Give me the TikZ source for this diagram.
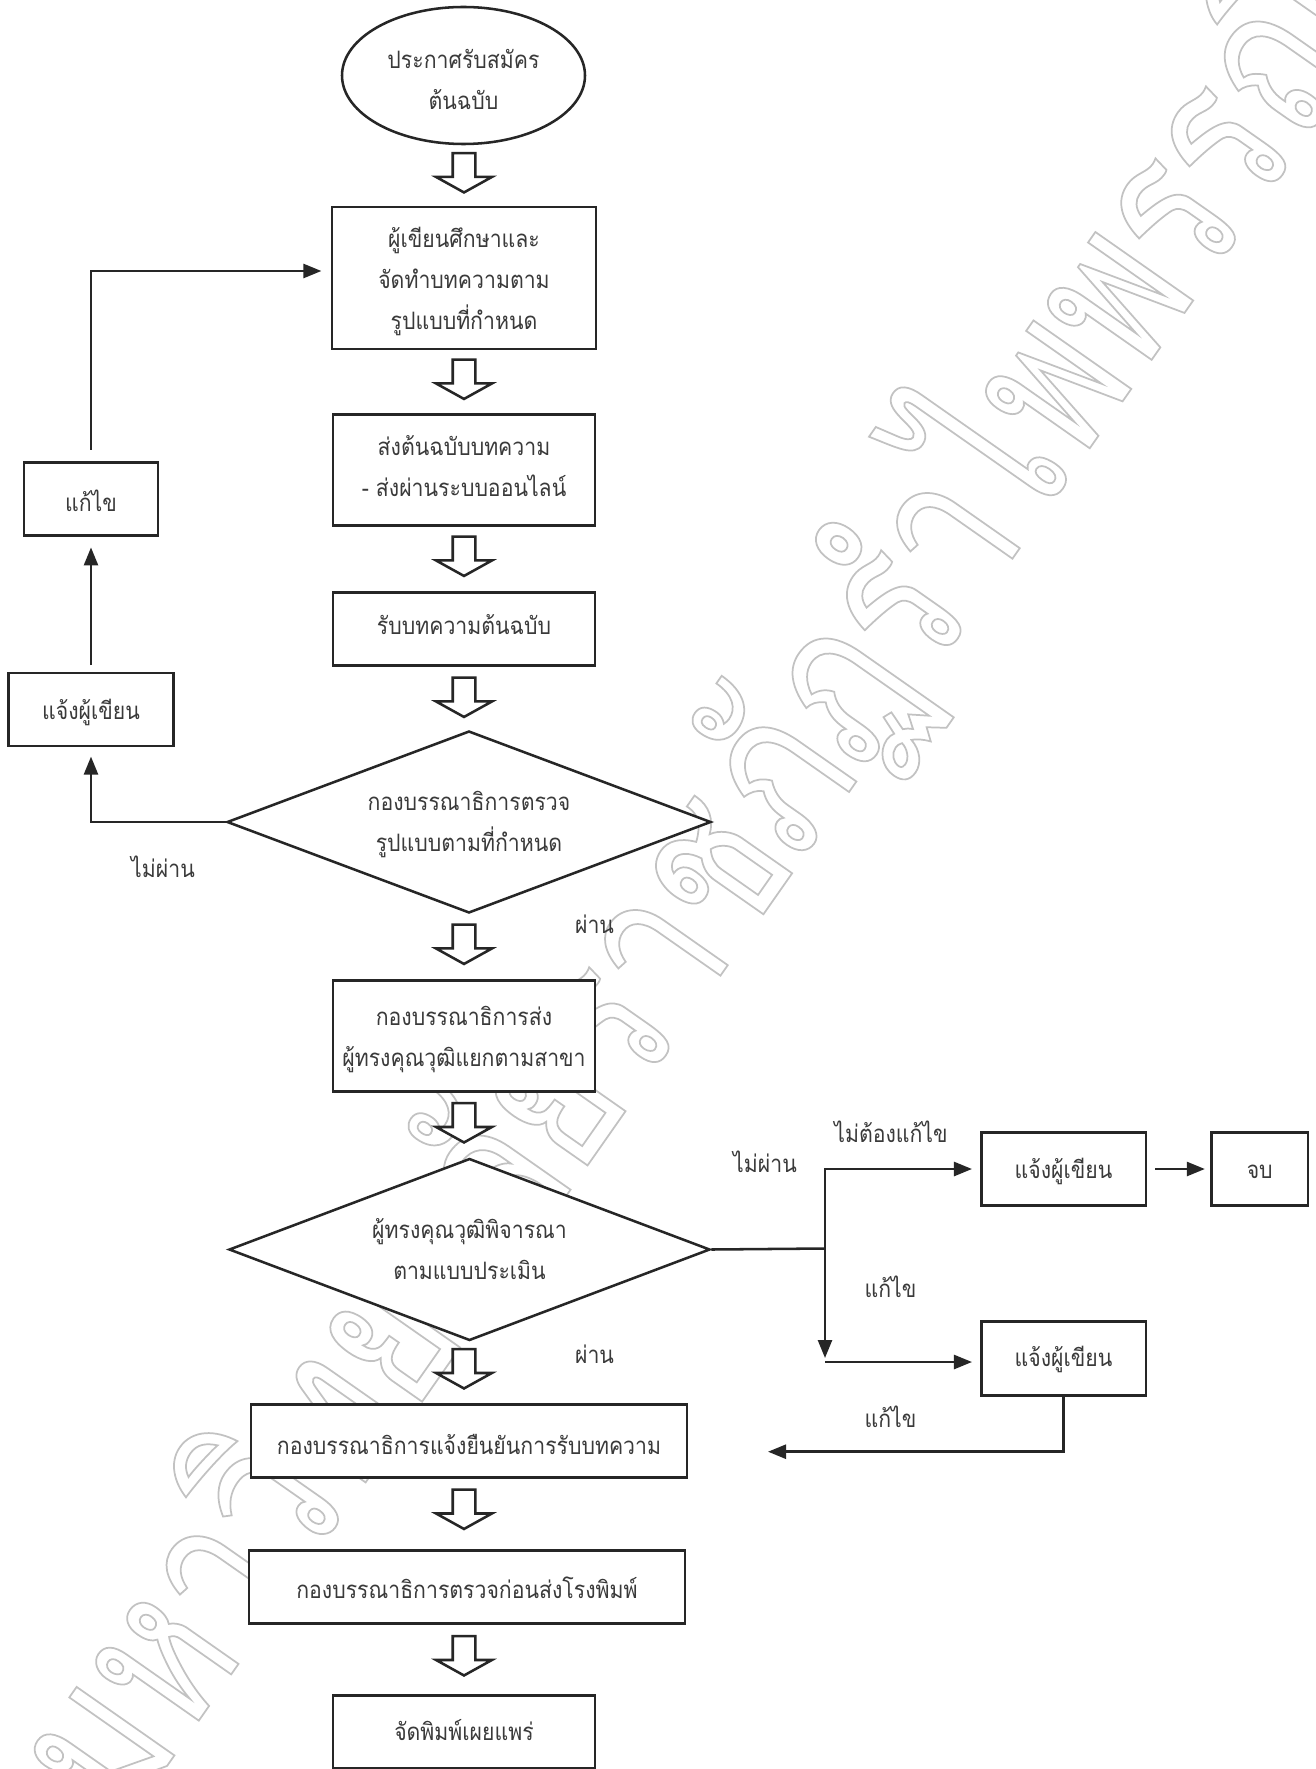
\documentclass[tikz,border=0pt]{standalone}
\usepackage{fontspec}
\usetikzlibrary{shapes.geometric,shapes.arrows,arrows.meta}
\newfontfamily\thaifont[Script=Thai,FakeStretch=0.885]{Loma}
\newfontfamily\markfont[Script=Thai,FakeStretch=0.763]{Loma}
\definecolor{ink}{HTML}{262626}
\definecolor{txt}{HTML}{3A3A3A}
\tikzset{
  flowbox/.style 2 args={draw=ink,fill=white,line width=1.9pt,rectangle,inner sep=0pt,align=center,text=txt,
    font=\thaifont\fontsize{18}{30.75}\selectfont,minimum width=#1*0.75pt,minimum height=#2*0.75pt,
    execute at begin node={\rule{0pt}{18pt}},execute at end node={\rule[-6pt]{0pt}{6pt}}},
  startnode/.style 2 args={flowbox={#1}{#2},ellipse},
  decision/.style 2 args={flowbox={#1}{#2},diamond,aspect=2.6},
  textdown/.style={execute at begin node={\rule{0pt}{#1}}},
  textup/.style={execute at end node={\rule[-#1]{0pt}{#1}}},
  bigarrow/.style={draw=ink,fill=white,line width=1.9pt,yshift=2.5pt,single arrow,rotate=-90,inner sep=7.5pt,
    minimum height=29.5pt,single arrow head extend=12.5pt,single arrow tip angle=122,single arrow head indent=0pt},
  conn/.style={draw=ink,line width=1.9pt,-{Triangle[length=13.5pt,width=10.5pt]}},
  label/.style={text=txt,inner sep=0pt,font=\thaifont\fontsize{18}{30.75}\selectfont},
  wm/.style={inner sep=0pt,anchor=base west,rotate=55,font=\markfont\fontsize{161}{200}\selectfont}
}
\begin{document}
\begin{tikzpicture}[x=0.75pt,y=-0.75pt]
\useasboundingbox (0,0) rectangle (1316,1769);
\fill[white] (0,0) rectangle (1316,1769);
% watermark
\node[wm] (mark) at (121.5,1831) {\special{pdf:code q 1 Tr 0.76 0.76 0.76 RG 1.3 w}มหาวิทยาลัยราชภัฏรำไพพรรณี\special{pdf:code Q}};
% main column
\node[startnode={243}{137},textdown=57.5pt] (start) at (463.5,75.5) {ประกาศรับสมัคร\\ต้นฉบับ};
\node[flowbox={264}{142},textdown=83.5pt] (study) at (464,278) {ผู้เขียนศึกษาและ\\จัดทำบทความตาม\\รูปแบบที่กำหนด};
\node[flowbox={262}{111}] (send) at (464,470) {ส่งต้นฉบับบทความ\\- ส่งผ่านระบบออนไลน์};
\node[flowbox={262}{73.5},textup=9.4pt] (recv) at (464,629) {รับบทความต้นฉบับ};
\node[decision={484}{182},textdown=50.5pt] (check) at (469,822) {กองบรรณาธิการตรวจ\\รูปแบบตามที่กำหนด};
\node[flowbox={262}{111},textdown=52pt] (refer) at (464,1036) {กองบรรณาธิการส่ง\\ผู้ทรงคุณวุฒิแยกตามสาขา};
\node[decision={481}{182},textdown=51pt] (review) at (469.5,1249.5) {ผู้ทรงคุณวุฒิพิจารณา\\ตามแบบประเมิน};
\node[flowbox={436}{73},textdown=26.5pt] (confirm) at (469,1441) {กองบรรณาธิการแจ้งยืนยันการรับบทความ};
\node[flowbox={436}{73},textdown=23pt] (proof) at (467,1587) {กองบรรณาธิการตรวจก่อนส่งโรงพิมพ์};
\node[flowbox={262}{73}] (publish) at (464,1732) {จัดพิมพ์เผยแพร่};
% left column
\node[flowbox={134}{73},textdown=25pt] (fix) at (91,499) {แก้ไข};
\node[flowbox={165.5}{73},textdown=21.5pt] (notifya) at (91,709.5) {แจ้งผู้เขียน};
% right column
\node[flowbox={164.5}{73.5},textdown=20pt] (notifyb) at (1063.5,1169) {แจ้งผู้เขียน};
\node[flowbox={96.5}{73.5},textdown=20pt] (endn) at (1259.7,1169) {จบ};
\node[flowbox={164.5}{74}] (notifyc) at (1063.5,1358.7) {แจ้งผู้เขียน};
% block arrows
\node[bigarrow] (a1) at (464,173) {};
\node[bigarrow] (a2) at (464,379.5) {};
\node[bigarrow] (a3) at (464,556.5) {};
\node[bigarrow] (a4) at (464,697.5) {};
\node[bigarrow] (a5) at (464,944.5) {};
\node[bigarrow] (a6) at (464,1123) {};
\node[bigarrow] (a7) at (464,1369) {};
\node[bigarrow] (a8) at (464,1509.5) {};
\node[bigarrow] (a9) at (464,1656) {};
% line connectors
\coordinate (j1) at (825,1248.5);
\coordinate (j2) at (825,1362);
\coordinate (back) at (768,1451.7);
\coordinate (studyin) at ([yshift=5.25pt]study.west);
\draw[conn,shorten >=7pt] (check.west) -| (notifya.south);
\draw[conn,shorten <=5pt,shorten >=8pt] (notifya.north) -- (fix.south);
\draw[conn,shorten <=8.5pt,shorten >=7pt] (fix.north) |- (studyin);
\draw[conn,-] (review.east) -- (j1);
\draw[conn,shorten >=6pt] (j1) |- (notifyb.west);
\draw[conn,shorten >=3pt] (j1) -- (j2);
\draw[conn,shorten >=6pt] (j2) -- (j2 -| notifyc.west);
\draw[conn,shorten <=6pt,shorten >=4pt] (notifyb.east) -- (endn.west);
\draw[conn] (notifyc.south) |- (back);
% labels
\node[label] (l1) at (163,867) {ไม่ผ่าน};
\node[label] (l2) at (594.5,924) {ผ่าน};
\node[label] (l3) at (594.5,1354) {ผ่าน};
\node[label] (l4) at (891,1132) {ไม่ต้องแก้ไข};
\node[label] (l5) at (765,1162) {ไม่ผ่าน};
\node[label] (l6) at (890.5,1287) {แก้ไข};
\node[label] (l7) at (890.5,1417) {แก้ไข};
\end{tikzpicture}
\end{document}
